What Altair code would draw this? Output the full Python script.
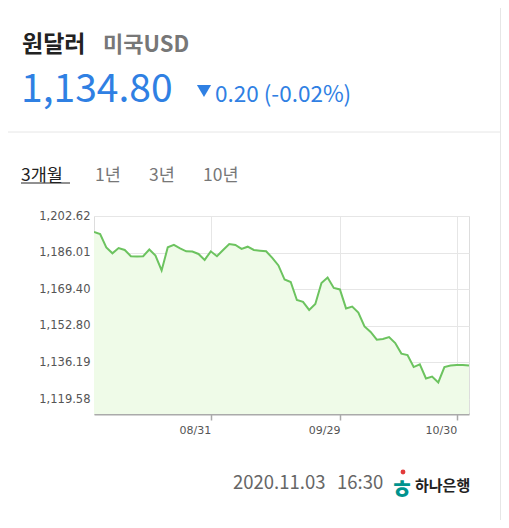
import altair as alt
import pandas as pd

# ---- data ----
DATES = ["08/03","08/04","08/05","08/06","08/07","08/10","08/11","08/12","08/13","08/14",
         "08/18","08/19","08/20","08/21","08/24","08/25","08/26","08/27","08/28","08/31",
         "09/01","09/02","09/03","09/04","09/07","09/08","09/09","09/10","09/11","09/14",
         "09/15","09/16","09/17","09/18","09/21","09/22","09/23","09/24","09/25","09/28",
         "09/29","10/05","10/06","10/07","10/08","10/12","10/13","10/14","10/15","10/16",
         "10/19","10/20","10/21","10/22","10/23","10/26","10/27","10/28","10/29","10/30",
         "11/02","11/03"]
RATES = [1195.4,1194.4,1188.4,1185.7,1188.1,1187.2,1184.4,1184.3,1184.4,1187.4,
         1184.7,1177.9,1188.4,1189.5,1187.9,1186.6,1186.5,1185.4,1182.7,1186.6,
         1184.4,1187.2,1189.9,1189.5,1187.7,1188.7,1187.2,1186.9,1186.6,1183.6,
         1180.2,1173.8,1172.7,1164.5,1163.7,1160.0,1162.7,1172.2,1174.7,1170.0,
         1169.3,1160.7,1161.5,1158.8,1152.5,1150.0,1146.5,1146.8,1147.7,1145.0,
         1140.2,1139.5,1134.1,1135.3,1128.9,1129.8,1127.1,1134.1,1134.8,1135.0,
         1135.0,1134.8]
Y_TICKS = [1119.58, 1136.19, 1152.80, 1169.40, 1186.01, 1202.62]
X_TICKS = ["08/31", "09/29", "10/30"]
Y_DOMAIN = [1112.8, 1202.62]

TITLE = "원달러"
SUBTITLE = "미국USD"
PRICE = "1,134.80"
CHANGE = "0.20 (-0.02%)"
TABS = ["3개월", "1년", "3년", "10년"]
STAMP_DATE = "2020.11.03"
STAMP_TIME = "16:30"
BANK = "하나은행"

df = pd.DataFrame({"date": DATES, "rate": RATES})

KR = "Noto Sans CJK KR"
BLUE = "#2f80e3"

x_enc = alt.X("date:O", sort=None, title=None,
              scale=alt.Scale(type="point", padding=0),
              axis=alt.Axis(values=X_TICKS, labelAngle=0, labelAlign="right",
                            labelBaseline="top", labelPadding=4,
                            labelFont="DejaVu Sans", labelFontSize=11, labelColor="#555",
                            tickSize=6, tickColor="#aaa", tickWidth=1.5,
                            domainColor="#aaa", domainWidth=2,
                            grid=True, gridColor="#e6e6e6"))
y_enc = alt.Y("rate:Q", title=None,
              scale=alt.Scale(domain=Y_DOMAIN, nice=False, zero=False),
              axis=alt.Axis(values=Y_TICKS, format=",.2f", domain=False, ticks=False,
                            labelPadding=4, labelFont="DejaVu Sans", labelFontSize=11.5,
                            labelColor="#555", grid=True, gridColor="#e6e6e6"))

base = alt.Chart(df)
area = base.mark_area(color="#effbe8", clip=True).encode(x=x_enc, y=y_enc)
line = base.mark_line(color="#6cc35f", strokeWidth=2, clip=True).encode(x=x_enc, y=y_enc)


def txt(s, x, y, size, color, weight="normal", font=KR, align="left", baseline="alphabetic"):
    return alt.Chart(pd.DataFrame({"t": [s]})).mark_text(
        align=align, baseline=baseline, font=font, fontSize=size, color=color,
        fontWeight=weight
    ).encode(text="t:N", x=alt.value(x), y=alt.value(y))


def rule(x, x2, y, y2, color, width=1):
    return alt.Chart(pd.DataFrame({"r": [0]})).mark_rule(color=color, strokeWidth=width).encode(
        x=alt.value(x), x2=alt.value(x2), y=alt.value(y), y2=alt.value(y2))


layers = [area, line]
# header
layers.append(txt(TITLE, -72, -164, 23, "#222", "bold"))
layers.append(txt(SUBTITLE, 9, -164, 22, "#777", "bold"))
layers.append(txt(PRICE, -73, -114, 39, BLUE))
layers.append(alt.Chart(pd.DataFrame({"p": [0]})).mark_point(
    shape="triangle-down", filled=True, color=BLUE, size=200, opacity=1
).encode(x=alt.value(110), y=alt.value(-125)))
layers.append(txt(CHANGE, 121, -114, 22.5, BLUE))
layers.append(rule(-86, 406, -84, -84, "#e6e6e6"))
layers.append(rule(406.5, 406.5, -208, 312, "#e6e6e6"))
# tabs
tab_x = [-73, 1, 55, 109]
for i, (t, tx) in enumerate(zip(TABS, tab_x)):
    layers.append(txt(t, tx, -35, 17.5, "#222" if i == 0 else "#777"))
layers.append(rule(-73, -24, -33, -33, "#222"))
# footer
layers.append(txt(STAMP_DATE, 139, 273, 18.5, "#666"))
layers.append(txt(STAMP_TIME, 243, 273, 18.5, "#666"))
layers.append(txt("ㅎ", 308, 283, 26, "#00938e", "bold", align="center"))
layers.append(alt.Chart(pd.DataFrame({"p": [0]})).mark_point(
    shape="circle", filled=True, color="#e23a3a", size=24, opacity=1
).encode(x=alt.value(309), y=alt.value(256)))
layers.append(txt(BANK, 321, 275, 15, "#222", "bold"))

chart = alt.layer(*layers).properties(
    width=375, height=198,
    padding={"left": 86, "top": 208, "right": 32, "bottom": 106},
    autosize=alt.AutoSizeParams(type="none"),
).configure_view(stroke=None).configure(background="white")

chart.save("out.html", embed_options={"renderer": "svg", "actions": False})
